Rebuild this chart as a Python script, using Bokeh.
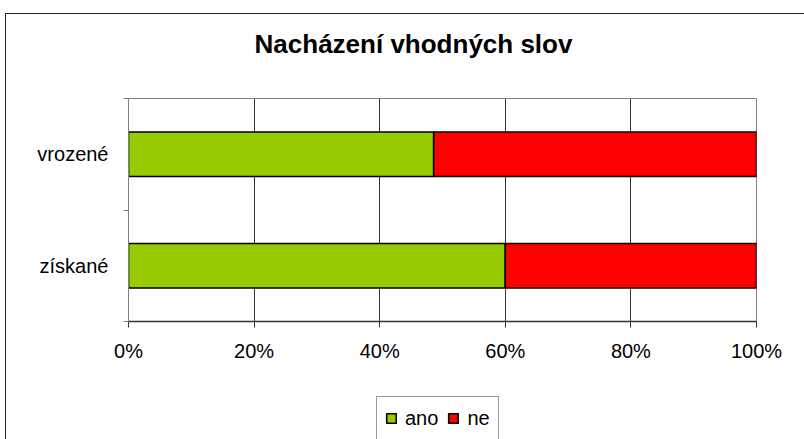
from bokeh.plotting import figure
from bokeh.layouts import column
from bokeh.models import (ColumnDataSource, FixedTicker, PrintfTickFormatter, Label,
                          Legend, LegendItem, Range1d)
from bokeh.embed import file_html
from bokeh.resources import INLINE

categories = ["získané", "vrozené"]          # bottom to top
ano = [60.0, 48.6]
ne = [40.0, 51.4]
series = ["ano", "ne"]
colors = ["#99CC00", "#FF0000"]
x_ticks = [0, 20, 40, 60, 80, 100]
title_text = "Nacházení vhodných slov"

FONT = "Liberation Sans"

centers = [i + 0.5 for i in range(len(categories))]
bounds = [float(i) for i in range(len(categories) + 1)]

src = ColumnDataSource(dict(y=centers, ano=ano, ne=ne))

W = 798


def blank_strip(h):
    f = figure(width=W, height=h, output_backend="svg", toolbar_location=None,
               x_range=Range1d(0, 100), y_range=Range1d(10, 11),
               min_border_left=0, min_border_right=0, min_border_top=0, min_border_bottom=0)
    f.axis.visible = False
    f.grid.visible = False
    f.outline_line_color = None
    f.background_fill_color = "white"
    f.border_fill_color = "white"
    return f


# title strip
tf = blank_strip(84)
tf.add_layout(Label(x=285, y=55, x_units="screen", y_units="screen", text=title_text,
                    text_font=FONT, text_font_size="26px", text_font_style="bold",
                    text_align="center", text_baseline="alphabetic", text_color="black"))

# main chart
p = figure(width=W, height=296, output_backend="svg", toolbar_location=None,
           x_range=Range1d(0, 100), y_range=Range1d(0, len(categories)),
           min_border_left=122, min_border_right=48, min_border_top=0, min_border_bottom=73)
p.background_fill_color = "white"
p.border_fill_color = "white"
p.outline_line_color = "#808080"
p.outline_line_width = 1

rs = p.hbar_stack(series, y="y", height=0.4, color=colors, source=src,
                  line_color="black", line_width=1.6)

# x axis
xa = p.xaxis[0]
xa.ticker = FixedTicker(ticks=x_ticks)
xa.formatter = PrintfTickFormatter(format="%d%%")
xa.axis_line_color = "#333333"
xa.axis_line_width = 1.5
xa.major_tick_line_color = "#333333"
xa.major_tick_in = 0
xa.major_tick_out = 6
xa.minor_tick_line_color = None
xa.major_label_text_font = FONT
xa.major_label_text_font_size = "20px"
xa.major_label_text_color = "black"
xa.major_label_standoff = 12

# y axis
ya = p.yaxis[0]
ya.ticker = FixedTicker(ticks=centers, minor_ticks=bounds)
ya.major_label_overrides = {c: lab for c, lab in zip(centers, categories)}
ya.axis_line_color = "#808080"
ya.major_tick_line_color = None
ya.major_tick_in = 0
ya.major_tick_out = 0
ya.minor_tick_line_color = "#808080"
ya.minor_tick_in = 0
ya.minor_tick_out = 5
ya.major_label_text_font = FONT
ya.major_label_text_font_size = "20px"
ya.major_label_text_color = "black"
ya.major_label_standoff = 15

p.xgrid.ticker = FixedTicker(ticks=x_ticks)
p.xgrid.grid_line_color = "#333333"
p.xgrid.grid_line_width = 1
p.ygrid.grid_line_color = None

# legend strip below the chart
lf = blank_strip(45)
lrs = lf.hbar_stack(series, y="y", height=0.4, color=colors, source=src,
                    line_color="black", line_width=1.6)
for r in lrs:
    r.visible = False

legend = Legend(items=[LegendItem(label=s, renderers=[r]) for s, r in zip(series, lrs)],
                orientation="horizontal", location=(248, -1),
                border_line_color="#333333", border_line_width=1,
                background_fill_color="white", background_fill_alpha=1,
                label_text_font=FONT, label_text_font_size="20px", label_text_color="black",
                label_height=26,
                glyph_width=12, glyph_height=12, label_standoff=8, spacing=9,
                padding=8, margin=0)
lf.add_layout(legend, "center")

layout = column(tf, p, lf, spacing=0, margin=(13, 0, 0, 5))
layout.styles = {"border-top": "1px solid #222222", "border-left": "1px solid #222222"}

open("out.html", "w").write(file_html(layout, INLINE))
